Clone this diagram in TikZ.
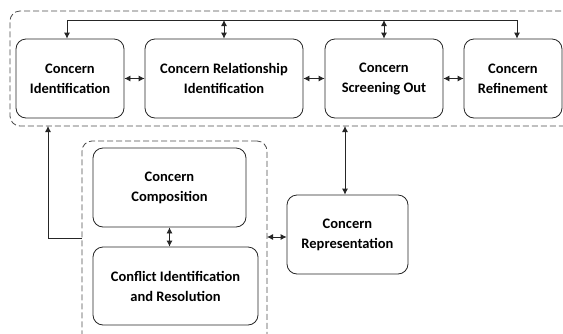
\documentclass[tikz,border=0pt]{standalone}
\usepackage{fontspec}
\setmainfont{Carlito}
\usetikzlibrary{arrows.meta}
\begin{document}
\begin{tikzpicture}[x=1pt,y=-1pt,
  proc/.style={draw=black!85, line width=0.8pt, rounded corners=10pt, align=center,
    font=\bfseries\fontsize{14.5}{20}\selectfont, inner sep=0pt},
  grp/.style={draw=black!70, line width=0.8pt, rounded corners=10pt, dash pattern=on 6pt off 3pt, inner sep=0pt},
  conn/.style={line width=0.8pt, draw=black!85},
  tip/.style={-{Latex[length=6pt,width=6pt]}},
  btip/.style={{Latex[length=6pt,width=6pt]}-{Latex[length=6pt,width=6pt]}}]
\useasboundingbox (0,0) rectangle (563,333);
\clip (0,0) rectangle (563,333);
% groups
\node[grp, minimum width=570, minimum height=115] (g1) at (295,68.5) {};
\node[grp, minimum width=185, minimum height=204] (g2) at (174.5,243) {};
% process boxes
\node[proc, minimum width=108, minimum height=79] (ci) at (70,78.5) {Concern\\Identification};
\node[proc, minimum width=158, minimum height=79] (cri) at (224,78.5) {Concern Relationship\\Identification};
\node[proc, minimum width=118, minimum height=79] (cso) at (384,78.5) {Concern\\Screening Out};
\node[proc, minimum width=98, minimum height=79] (cr) at (513,78.5) {Concern\\Refinement};
\node[proc, minimum width=121, minimum height=79] (crep) at (347.5,234.5) {Concern\\Representation};
\node[proc, minimum width=153, minimum height=79] (comp) at (169.5,187.5) {Concern\\Composition};
\node[proc, minimum width=165, minimum height=78] (conf) at (175.5,286) {Conflict Identification\\and Resolution};
% coordinates
\coordinate (t1) at (67,20);
\coordinate (t2) at (517,20);
\coordinate (v) at (345,126);
\coordinate (l1) at (82,238);
\coordinate (l2) at (48,238);
\coordinate (l3) at (48,126);
\coordinate (r1) at (267,237);
% connectors
\draw[conn,tip] (t2) -- (t1) -- (t1 |- ci.north);
\draw[conn,tip] (t1) -- (t2) -- (t2 |- cr.north);
\draw[conn,btip] (cri.north |- t1) -- (cri.north);
\draw[conn,btip] (cso.north |- t1) -- (cso.north);
\draw[conn,btip] (ci.east) -- (cri.west);
\draw[conn,btip] (cri.east) -- (cso.west);
\draw[conn,btip] (cso.east) -- (cr.west);
\draw[conn,btip] (v) -- (v |- crep.north);
\draw[conn,btip] (comp.south) -- (comp.south |- conf.north);
\draw[conn,btip] (r1) -- (r1 -| crep.west);
\draw[conn,tip] (l1) -- (l2) -- (l3);
\end{tikzpicture}
\end{document}
